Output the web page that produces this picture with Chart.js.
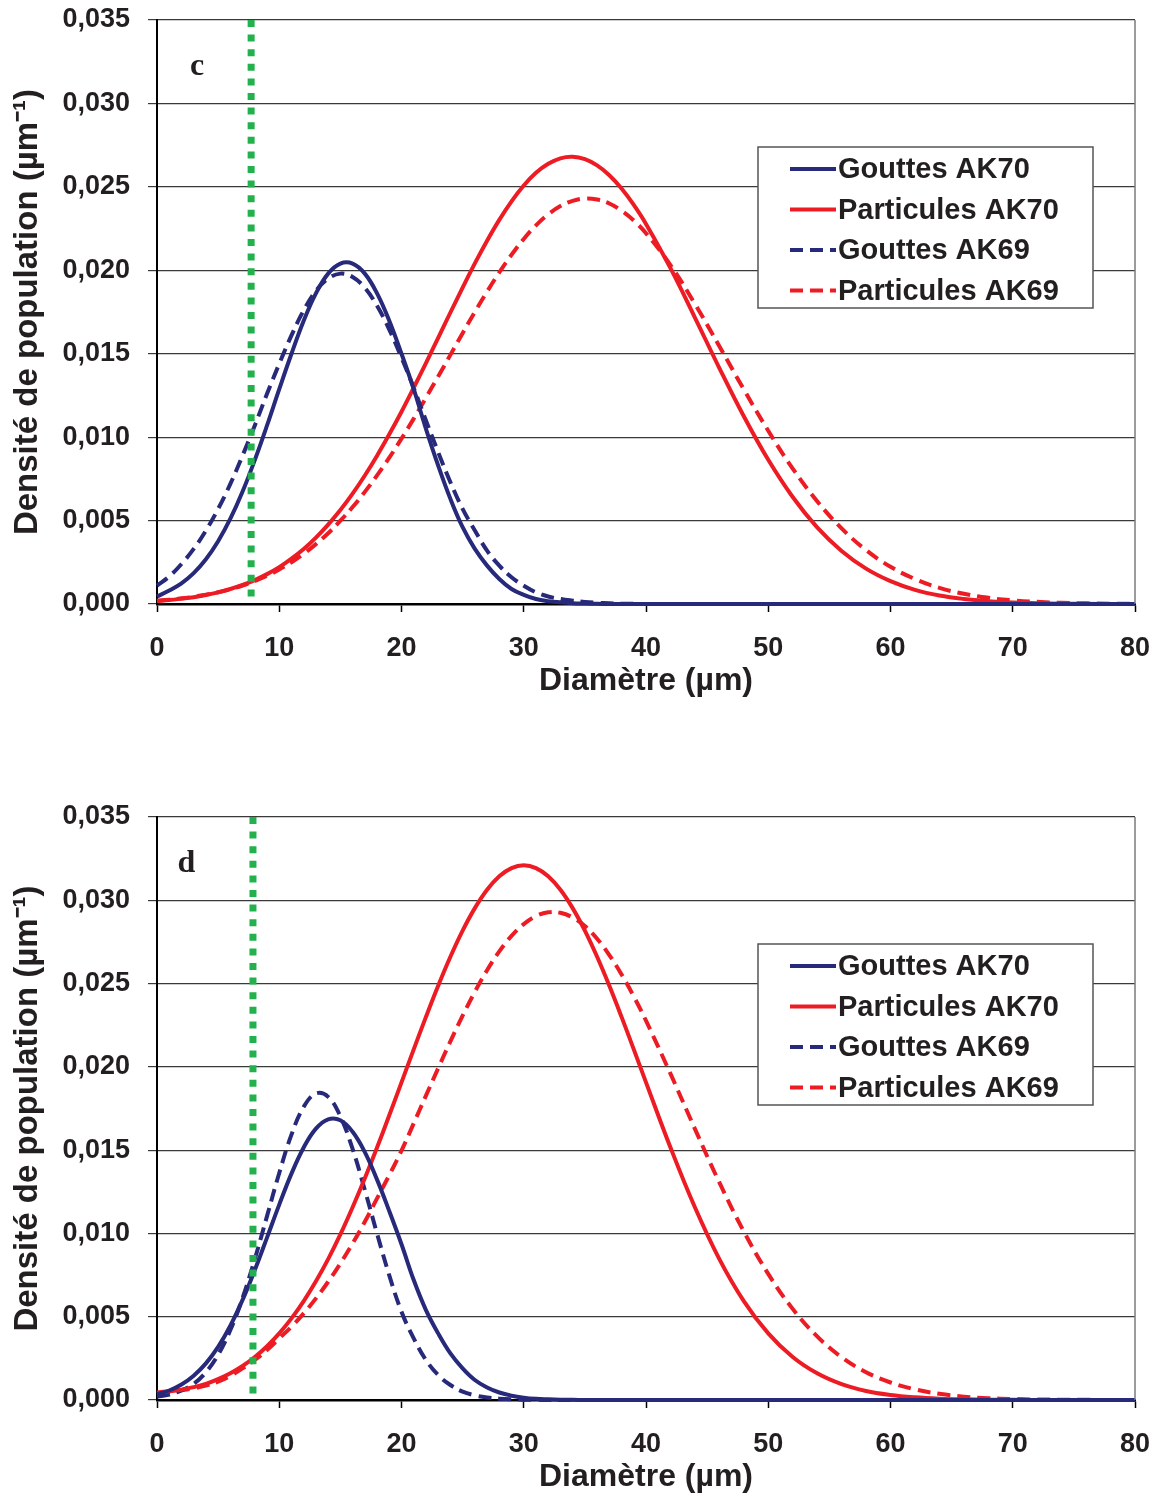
<!DOCTYPE html>
<html>
<head>
<meta charset="utf-8">
<script src="https://cdn.jsdelivr.net/npm/chart.js@4.4.1/dist/chart.umd.min.js"></script>
<style>
  body { margin: 0; background: #fff; }
  .panel { position: absolute; left: 0; }
</style>
</head>
<body>
<div class="panel" style="top:0"><canvas id="chartC" width="1159" height="700"></canvas></div>
<div class="panel" style="top:797px"><canvas id="chartD" width="1159" height="699"></canvas></div>
<script>
// diametres (µm)
const diametres = [0, 1, 2, 3, 4, 5, 6, 7, 8, 9, 10, 11, 12, 13, 14, 15, 16, 17, 18, 19, 20,
  21, 22, 23, 24, 25, 26, 27, 28, 29, 30, 31, 32, 33, 34, 35, 36, 37, 38, 39, 40,
  42, 44, 46, 48, 50, 52, 54, 56, 58, 60, 62, 64, 66, 68, 70, 72, 74, 76, 78, 80];

const legendLabels = ["Gouttes AK70", "Particules AK70", "Gouttes AK69", "Particules AK69"];

// panneau c
const gouttesAK70_c = [0.00045, 0.00081, 0.00124, 0.00185, 0.00268, 0.00376, 0.00511, 0.00674, 0.00863, 0.0107, 0.01288,
  0.0150, 0.01698, 0.01862, 0.0198, 0.0204, 0.0204, 0.0198, 0.01862, 0.01698, 0.0150,
  0.01288, 0.0105, 0.0083, 0.0063, 0.0046, 0.0033, 0.0023, 0.0015, 0.0009, 0.00055,
  0.0003, 0.00017, 0.0001, 0.00005, 0.00003, 0.00001, 0, 0, 0, 0,
  0, 0, 0, 0, 0, 0, 0, 0, 0, 0, 0, 0, 0, 0, 0, 0, 0, 0, 0, 0];
const particulesAK70_c = [0.00018, 0.00024, 0.00032, 0.00041, 0.00054, 0.0007, 0.0009, 0.00114, 0.00143, 0.00179, 0.00221,
  0.00272, 0.0033, 0.00398, 0.00476, 0.00563, 0.00661, 0.0077, 0.00889, 0.01017, 0.01152,
  0.01296, 0.01444, 0.01595, 0.01747, 0.01896, 0.02041, 0.02177, 0.02302, 0.02413, 0.02508,
  0.02584, 0.02638, 0.02671, 0.0268, 0.02666, 0.02629, 0.0257, 0.0249, 0.02392, 0.02278,
  0.02013, 0.01717, 0.01414, 0.01125, 0.00864, 0.00641, 0.00459, 0.00318, 0.00212, 0.00137,
  0.00085, 0.00051, 0.0003, 0.00017, 0.00009, 0.00005, 0.00002, 0.00001, 0, 0];
const gouttesAK69_c = [0.0011, 0.00165, 0.0024, 0.0033, 0.0044, 0.0057, 0.0072, 0.0089, 0.0107, 0.0126, 0.0144,
  0.0161, 0.0176, 0.01877, 0.0195, 0.0198, 0.0196, 0.01895, 0.01787, 0.01645, 0.01477,
  0.01295, 0.0110, 0.0091, 0.0073, 0.0057, 0.0044, 0.0032, 0.0023, 0.0016, 0.0011,
  0.0007, 0.00045, 0.0003, 0.0002, 0.00012, 0.00007, 0.00004, 0.00002, 0.00001, 0,
  0, 0, 0, 0, 0, 0, 0, 0, 0, 0, 0, 0, 0, 0, 0, 0, 0, 0, 0, 0];
const particulesAK69_c = [0.0002, 0.00026, 0.00034, 0.00043, 0.00056, 0.0007, 0.00089, 0.00111, 0.00138, 0.00169, 0.00207,
  0.0025, 0.00301, 0.00359, 0.00424, 0.00499, 0.00581, 0.00672, 0.00771, 0.00877, 0.00991,
  0.01111, 0.01236, 0.01364, 0.01493, 0.01623, 0.0175, 0.01872, 0.01987, 0.02093, 0.02188,
  0.02269, 0.02335, 0.02385, 0.02416, 0.0243, 0.02424, 0.024, 0.02357, 0.02298, 0.02222,
  0.02031, 0.01799, 0.01545, 0.01286, 0.01038, 0.00812, 0.00616, 0.00453, 0.00323, 0.00223,
  0.0015, 0.00097, 0.00061, 0.00037, 0.00022, 0.00013, 0.00007, 0.00004, 0.00002, 0.00001];

// panneau d
const gouttesAK70_d = [0.00034, 0.00057, 0.00093, 0.00146, 0.0022, 0.00319, 0.00446, 0.00601, 0.0078, 0.00975, 0.01173,
  0.01359, 0.01516, 0.01629, 0.01685, 0.01679, 0.0161, 0.01488, 0.01323, 0.01134, 0.00935,
  0.0072, 0.0054, 0.0040, 0.0028, 0.0019, 0.0012, 0.00075, 0.00045, 0.00026, 0.00014,
  0.00007, 0.00004, 0.00002, 0.00001, 0, 0, 0, 0, 0, 0,
  0, 0, 0, 0, 0, 0, 0, 0, 0, 0, 0, 0, 0, 0, 0, 0, 0, 0, 0, 0];
const particulesAK70_d = [0.00045, 0.00052, 0.00062, 0.00077, 0.00097, 0.00125, 0.0016, 0.00204, 0.00258, 0.00323, 0.004,
  0.0049, 0.00594, 0.00713, 0.00846, 0.00994, 0.01157, 0.01331, 0.01516, 0.01709, 0.01907,
  0.02105, 0.023, 0.02487, 0.02661, 0.02818, 0.02953, 0.03063, 0.03144, 0.03193, 0.0321,
  0.03193, 0.03144, 0.03063, 0.02953, 0.02818, 0.02661, 0.02487, 0.023, 0.02105, 0.01907,
  0.01516, 0.01157, 0.00846, 0.00594, 0.004, 0.00258, 0.0016, 0.00095, 0.00054, 0.0003,
  0.00016, 0.00008, 0.00004, 0.00002, 0.00001, 0, 0, 0, 0, 0];
const gouttesAK69_d = [0.0002, 0.00032, 0.00058, 0.00097, 0.00167, 0.00272, 0.0042, 0.00613, 0.00846, 0.01104, 0.01363,
  0.01593, 0.0176, 0.0184, 0.0182, 0.01703, 0.01507, 0.01261, 0.00999, 0.00748, 0.0053,
  0.0037, 0.0024, 0.0015, 0.0009, 0.0005, 0.00028, 0.00015, 0.00008, 0.00004, 0.00002,
  0.00001, 0, 0, 0, 0, 0, 0, 0, 0, 0,
  0, 0, 0, 0, 0, 0, 0, 0, 0, 0, 0, 0, 0, 0, 0, 0, 0, 0, 0, 0];
const particulesAK69_d = [0.0004, 0.00048, 0.00058, 0.0007, 0.00086, 0.0011, 0.00145, 0.0019, 0.0024, 0.003, 0.0037,
  0.0044, 0.0052, 0.0061, 0.0071, 0.0082, 0.0094, 0.0107, 0.0121, 0.0135, 0.01497,
  0.01661, 0.01827, 0.01992, 0.02153, 0.02307, 0.0245, 0.0258, 0.02693, 0.02786, 0.02857,
  0.02905, 0.02928, 0.02925, 0.02897, 0.02845, 0.02769, 0.02671, 0.02555, 0.02423, 0.02277,
  0.01959, 0.01628, 0.01306, 0.01012, 0.00757, 0.00547, 0.00382, 0.00257, 0.00167, 0.00105,
  0.00064, 0.00037, 0.0002, 0.00011, 0.00006, 0.00003, 0.00002, 0.00001, 0, 0];

// seuil (ligne verte pointillee)
const seuil_c = 7.7;
const seuil_d = 7.85;

const xTicks = [0, 10, 20, 30, 40, 50, 60, 70, 80];
const yTickLabels = ["0,000", "0,005", "0,010", "0,015", "0,020", "0,025", "0,030", "0,035"];

const BLEU = "#27297a";
const ROUGE = "#ed1c24";
const VERT = "#22b14c";
const TEXTE = "#231f20";
const POLICE = "'Liberation Sans', Arial, sans-serif";

function points(ys) {
  return diametres.map((x, i) => ({ x: x, y: ys[i] }));
}

// cadre droit, lettre du panneau et legende
const cadrePlugin = {
  id: "cadre",
  afterDatasetsDraw(chart, args, opts) {
    const ctx = chart.ctx;
    const a = chart.chartArea;
    ctx.save();
    ctx.strokeStyle = "#7a7a7a";
    ctx.lineWidth = 1.5;
    ctx.beginPath();
    ctx.moveTo(a.right, a.top);
    ctx.lineTo(a.right, a.bottom);
    ctx.stroke();

    ctx.fillStyle = TEXTE;
    ctx.font = "bold 32px 'Liberation Serif', 'Times New Roman', serif";
    ctx.textAlign = "center";
    ctx.textBaseline = "alphabetic";
    ctx.fillText(opts.lettre, a.left + opts.lettreX, a.top + 55);

    const bx = a.left + 601, by = a.top + 127, bw = 335, bh = 161;
    ctx.fillStyle = "#fff";
    ctx.fillRect(bx, by, bw, bh);
    ctx.strokeStyle = "#555";
    ctx.lineWidth = 1.5;
    ctx.strokeRect(bx, by, bw, bh);

    let k = 0;
    chart.data.datasets.forEach(ds => {
      if (!ds.label) return;
      const y = by + 22 + k * 40.5;
      ctx.strokeStyle = ds.borderColor;
      ctx.lineWidth = 4;
      ctx.setLineDash(ds.borderDash || []);
      ctx.beginPath();
      ctx.moveTo(bx + 32, y);
      ctx.lineTo(bx + 78, y);
      ctx.stroke();
      ctx.setLineDash([]);
      ctx.fillStyle = TEXTE;
      ctx.font = "bold 29px " + POLICE;
      ctx.textAlign = "left";
      ctx.textBaseline = "middle";
      ctx.fillText(ds.label, bx + 80, y + 1);
      k++;
    });
    ctx.restore();
  }
};

function serie(label, ys, couleur, tirets) {
  return {
    label: label,
    data: points(ys),
    borderColor: couleur,
    borderWidth: 4,
    borderDash: tirets ? [13, 7] : [],
    pointRadius: 0,
    tension: 0.4,
    fill: false,
    clip: 6,
    order: 1
  };
}

function makeChart(id, series, seuil, lettre, lettreX) {
  return new Chart(document.getElementById(id), {
    type: "line",
    data: {
      datasets: [
        {
          label: "",
          data: [{ x: seuil, y: 0.035 }, { x: seuil, y: 0 }],
          borderColor: VERT,
          borderWidth: 7,
          borderDash: [7, 7.6],
          borderCapStyle: "butt",
          pointRadius: 0,
          order: 0
        },
        serie(legendLabels[0], series[0], BLEU, false),
        serie(legendLabels[1], series[1], ROUGE, false),
        serie(legendLabels[2], series[2], BLEU, true),
        serie(legendLabels[3], series[3], ROUGE, true)
      ]
    },
    options: {
      responsive: false,
      animation: false,
      devicePixelRatio: 1,
      layout: { padding: { top: 20, right: 24, left: 0, bottom: 0 } },
      plugins: {
        legend: { display: false },
        tooltip: { enabled: false },
        cadre: { lettre: lettre, lettreX: lettreX }
      },
      scales: {
        x: {
          type: "linear",
          min: 0,
          max: 80,
          afterBuildTicks: s => { s.ticks = xTicks.map(v => ({ value: v })); },
          afterFit: s => { s.height = 96; s.paddingLeft = 0; s.paddingRight = 0; },
          grid: { drawOnChartArea: false, drawTicks: true, tickLength: 8, tickColor: "#000", tickWidth: 1.5 },
          border: { display: true, color: "#000", width: 2.5 },
          ticks: {
            padding: 20,
            color: TEXTE,
            font: { family: POLICE, size: 27, weight: "bold" },
            maxRotation: 0
          },
          title: {
            display: true,
            text: "Diamètre (µm)",
            color: TEXTE,
            font: { family: POLICE, size: 32, weight: "bold" },
            padding: { top: 0, bottom: 0 }
          }
        },
        y: {
          min: 0,
          max: 0.035,
          afterBuildTicks: s => { s.ticks = yTickLabels.map((t, i) => ({ value: i * 0.005 })); },
          afterFit: s => { s.width = 157; s.paddingTop = 0; s.paddingBottom = 0; },
          grid: { color: "#3a3a3a", lineWidth: 1.2, drawTicks: true, tickLength: 9 },
          border: { display: true, color: "#000", width: 2 },
          ticks: {
            padding: 18,
            color: TEXTE,
            font: { family: POLICE, size: 27, weight: "bold" },
            callback: (v, i) => yTickLabels[i]
          },
          title: {
            display: true,
            text: "Densité de population (µm⁻¹)",
            color: TEXTE,
            font: { family: POLICE, size: 33, weight: "bold" },
            padding: { top: 8, bottom: 0 }
          }
        }
      }
    },
    plugins: [cadrePlugin]
  });
}

makeChart("chartC", [gouttesAK70_c, particulesAK70_c, gouttesAK69_c, particulesAK69_c], seuil_c, "c", 40);
makeChart("chartD", [gouttesAK70_d, particulesAK70_d, gouttesAK69_d, particulesAK69_d], seuil_d, "d", 29.5);
</script>
</body>
</html>
